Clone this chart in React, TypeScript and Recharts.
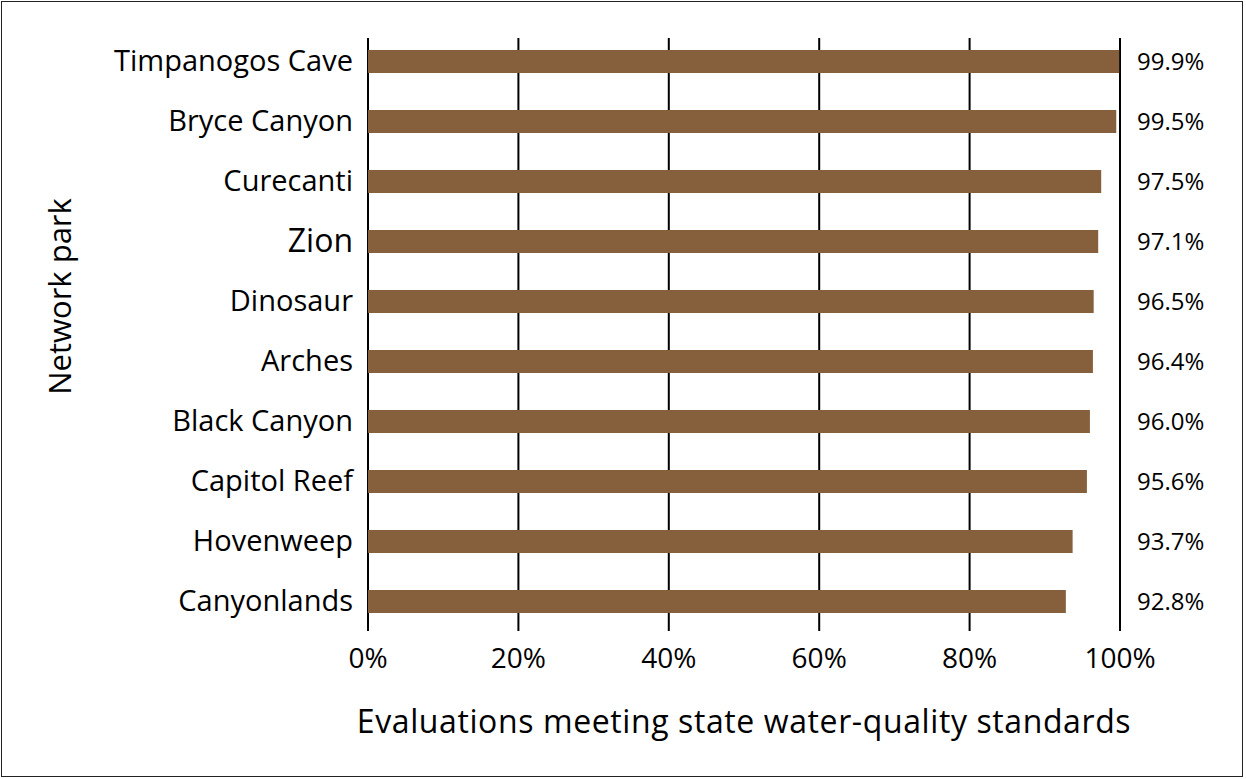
import React from 'react';
import { BarChart, Bar, XAxis, YAxis, CartesianGrid } from 'recharts';

const parks = [
  'Timpanogos Cave',
  'Bryce Canyon',
  'Curecanti',
  'Zion',
  'Dinosaur',
  'Arches',
  'Black Canyon',
  'Capitol Reef',
  'Hovenweep',
  'Canyonlands',
];
const percentMeeting = [99.9, 99.5, 97.5, 97.1, 96.5, 96.4, 96.0, 95.6, 93.7, 92.8];
const xTicks = [0, 20, 40, 60, 80, 100];

const data = parks.map((park, i) => ({
  park,
  value: percentMeeting[i],
  valueLabel: percentMeeting[i].toFixed(1) + '%',
}));

const FONT = '"Open Sans", sans-serif';
const BAR_COLOR = '#86603C';

const ParkTick = (props: any) => {
  const { x, y, payload } = props;
  const big = payload.value === 'Zion';
  return (
    <text
      x={x}
      y={y}
      dy={big ? 11 : 10}
      textAnchor="end"
      fontFamily={FONT}
      fontSize={big ? 32 : 29}
      fill="#000"
    >
      {payload.value}
    </text>
  );
};

const YTitle = (props: any) => {
  const vb = props.viewBox || {};
  const cx = vb.x + 60;
  const cy = vb.y + vb.height / 2 - 38;
  return (
    <text
      x={cx}
      y={cy}
      dy={11}
      textAnchor="middle"
      transform={`rotate(-90, ${cx}, ${cy})`}
      fontFamily={FONT}
      fontSize={31}
      fill="#000"
    >
      Network park
    </text>
  );
};

export default function App() {
  return (
    <div
      style={{
        position: 'absolute',
        left: 0,
        top: 0,
        width: 1246,
        height: 779,
        background: '#fff',
      }}
    >
      <div
        style={{
          position: 'absolute',
          left: 1,
          top: 1,
          width: 1242,
          height: 776,
          border: '1.5px solid #222',
          boxSizing: 'border-box',
        }}
      />
      <BarChart
        width={1246}
        height={779}
        data={data}
        layout="vertical"
        margin={{ top: 38, right: 0, bottom: 0, left: 0 }}
        barCategoryGap={0}
      >
        <CartesianGrid
          horizontal={false}
          vertical={true}
          stroke="#000"
          strokeWidth={2}
        />
        <XAxis
          type="number"
          domain={[0, 100]}
          ticks={xTicks}
          tickFormatter={(v: number) => `${v}%`}
          axisLine={false}
          tickLine={false}
          tickSize={0}
          tickMargin={17}
          height={148}
          interval={0}
          tick={{ fontFamily: FONT, fontSize: 28, fill: '#000' }}
          label={{
            value: 'Evaluations meeting state water-quality standards',
            position: 'insideBottom',
            offset: 46,
            fontFamily: FONT,
            fontSize: 32,
            letterSpacing: 0.6,
            fill: '#000',
          }}
        />
        <YAxis
          type="category"
          dataKey="park"
          width={368}
          axisLine={false}
          tickLine={false}
          tickSize={0}
          tickMargin={15}
          interval={0}
          padding={{ top: -7, bottom: 0 }}
          tick={<ParkTick />}
          label={<YTitle />}
        />
        <YAxis
          yAxisId="right"
          orientation="right"
          type="category"
          dataKey="valueLabel"
          width={126}
          axisLine={false}
          tickLine={false}
          tickSize={0}
          tickMargin={17}
          interval={0}
          padding={{ top: -7, bottom: 0 }}
          tick={{ fontFamily: FONT, fontSize: 24, fill: '#000' }}
        />
        <Bar
          dataKey="value"
          fill={BAR_COLOR}
          barSize={23}
          isAnimationActive={false}
        />
      </BarChart>
    </div>
  );
}
